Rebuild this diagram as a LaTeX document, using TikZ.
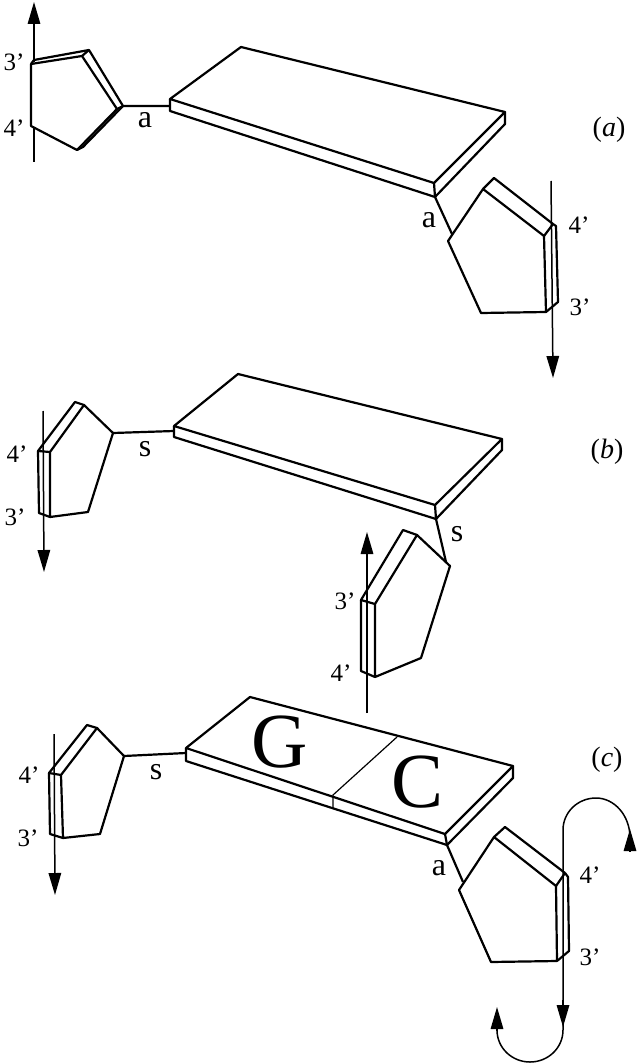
\documentclass[tikz,border=0pt]{standalone}
\usepackage{fontspec}
\setmainfont{Liberation Serif}
\usetikzlibrary{arrows.meta}

\tikzset{
    outline/.style={line width=2.2pt, line join=round, black},
    strand/.style={line width=1.5pt, black},
    strandhead/.style={strand, -{Triangle[length=22pt, width=12.5pt]}},
    primelabel/.style={inner sep=0pt, font=\fontsize{25}{27}\selectfont},
    bondlabel/.style={inner sep=0pt, font=\fontsize{32}{34}\selectfont},
    panellabel/.style={inner sep=0pt, font=\fontsize{28}{30}\selectfont},
    baselabel/.style={inner sep=0pt, font=\fontsize{78}{82}\selectfont}
}

\begin{document}
\begin{tikzpicture}[x=1pt, y=-1pt]
    \useasboundingbox (0,0) rectangle (640,1064);

    % Corners of the three base slabs
    \coordinate (LeftA) at (170,99);
    \coordinate (TopA) at (241,47);
    \coordinate (RightA) at (505,112);
    \coordinate (FrontA) at (434,183);
    \coordinate (LeftLowA) at (170,111);
    \coordinate (FrontLowA) at (435,197);
    \coordinate (RightLowA) at (505,124);

    \coordinate (LeftB) at (174,426);
    \coordinate (TopB) at (238,374);
    \coordinate (RightB) at (502,439);
    \coordinate (FrontB) at (435,505);
    \coordinate (LeftLowB) at (174,437);
    \coordinate (FrontLowB) at (436,519);
    \coordinate (RightLowB) at (502,450);

    \coordinate (LeftC) at (186,748);
    \coordinate (TopC) at (250,697);
    \coordinate (RightC) at (513,766);
    \coordinate (FrontC) at (445,834);
    \coordinate (LeftLowC) at (186,761);
    \coordinate (FrontLowC) at (447,845);
    \coordinate (RightLowC) at (513,778);

    % Base slabs
    \foreach \p in {A, B, C} {
        \draw[outline] (Left\p) -- (Top\p) -- (Right\p) -- (Front\p) -- cycle;
        \draw[outline] (Left\p) -- (LeftLow\p) -- (FrontLow\p) -- (RightLow\p) -- (Right\p);
        \draw[outline] (Front\p) -- (FrontLow\p);
    }

    % Split of the pair in panel (c)
    \draw[line width=1.2pt] (397,737) -- (333,795) -- (333,809);
    \node[baselabel] (baseG) at (280,742) {G};
    \node[baselabel] (baseC) at (418,782) {C};

    % Panel (a), left sugar
    \draw[strand] (34,162) -- (34,128);
    \draw[strandhead] (34,62) -- (34,2);
    \draw[outline] (31,64) -- (82,56) -- (117,109) -- (77,150) -- (31,126) -- cycle;
    \draw[outline] (31,64) -- (34,60) -- (89,50) -- (123,106) -- (83,147) -- (77,150);
    \draw[outline] (82,56) -- (89,50);
    \draw[outline] (117,109) -- (123,106) -- (LeftA |- 0,106);
    \node[primelabel] (threeA) at (14,62) {3'};
    \node[primelabel] (fourA) at (14,128) {4'};
    \node[bondlabel] (bondA) at (145,120) {a};

    % Panel (a), right sugar
    \draw[strandhead] (551,181) -- (553,378);
    \draw[outline] (FrontLowA) -- (452,234);
    \draw[outline] (448,241) -- (483,189) -- (544,236) -- (546,312) -- (481,313) -- cycle;
    \draw[outline] (483,189) -- (494,178) -- (553,224) -- (544,236);
    \draw[outline] (553,224) -- (556,226) -- (558,302) -- (546,312);
    \node[primelabel] (fourAr) at (579,225) {4'};
    \node[primelabel] (threeAr) at (580,307) {3'};
    \node[bondlabel] (bondAr) at (429,220) {a};
    \node[panellabel] (panelA) at (609,130) {(\textit{a})};

    % Panel (b), left sugar
    \draw[strandhead] (43,411) -- (44,572);
    \draw[outline] (50,452) -- (84,405) -- (113,433) -- (88,512) -- (50,517) -- cycle;
    \draw[outline] (50,452) -- (38,451) -- (75,402) -- (84,405);
    \draw[outline] (38,451) -- (39,513) -- (50,517);
    \draw[outline] (113,433) -- (LeftB |- 0,431);
    \node[primelabel] (fourB) at (17,454) {4'};
    \node[primelabel] (threeB) at (15,517) {3'};
    \node[bondlabel] (bondB) at (145,449) {s};

    % Panel (b), right sugar
    \draw[strandhead] (367,713) -- (367,532);
    \draw[outline] (FrontLowB) -- (446,562);
    \draw[outline] (375,604) -- (417,535) -- (450,566) -- (421,658) -- (375,677) -- cycle;
    \draw[outline] (375,604) -- (361,600) -- (403,530) -- (417,535);
    \draw[outline] (361,600) -- (361,671) -- (375,677);
    \node[primelabel] (threeBr) at (345,601) {3'};
    \node[primelabel] (fourBr) at (341,673) {4'};
    \node[bondlabel] (bondBr) at (457,534) {s};
    \node[panellabel] (panelB) at (607,452) {(\textit{b})};

    % Panel (c), left sugar
    \draw[strandhead] (54,734) -- (55,895);
    \draw[outline] (61,775) -- (97,728) -- (124,756) -- (100,834) -- (63,838) -- cycle;
    \draw[outline] (61,775) -- (49,773) -- (87,725) -- (97,728);
    \draw[outline] (49,773) -- (50,834) -- (63,838);
    \draw[outline] (124,756) -- (LeftC |- 0,753);
    \node[primelabel] (fourC) at (29,775) {4'};
    \node[primelabel] (threeC) at (28,838) {3'};
    \node[bondlabel] (bondC) at (156,772) {s};

    % Panel (c), right sugar
    \draw[outline] (FrontLowC) -- (463,882);
    \draw[outline] (459,890) -- (494,837) -- (556,886) -- (557,961) -- (491,962) -- cycle;
    \draw[outline] (494,837) -- (505,827) -- (565,873) -- (556,886);
    \draw[outline] (565,873) -- (568,877) -- (569,951) -- (557,961);
    \node[primelabel] (fourCr) at (590,875) {4'};
    \node[primelabel] (threeCr) at (590,957) {3'};
    \node[bondlabel] (bondCr) at (439,868) {a};
    \node[panellabel] (panelC) at (607,760) {(\textit{c})};

    % Strand of panel (c) with its two turns
    \draw[strand] (630,838) .. controls (630,815) and (614,798) .. (596,798)
        .. controls (578,798) and (563,812) .. (563,830) -- (563,1030)
        .. controls (563,1048) and (548,1062) .. (530,1062)
        .. controls (512,1062) and (497,1048) .. (497,1030);
    \draw[strandhead] (563,1000) -- (563,1027);
    \draw[strandhead] (630,851) -- (630,829);
    \draw[strandhead] (497,1031) -- (497,1007);
\end{tikzpicture}
\end{document}
